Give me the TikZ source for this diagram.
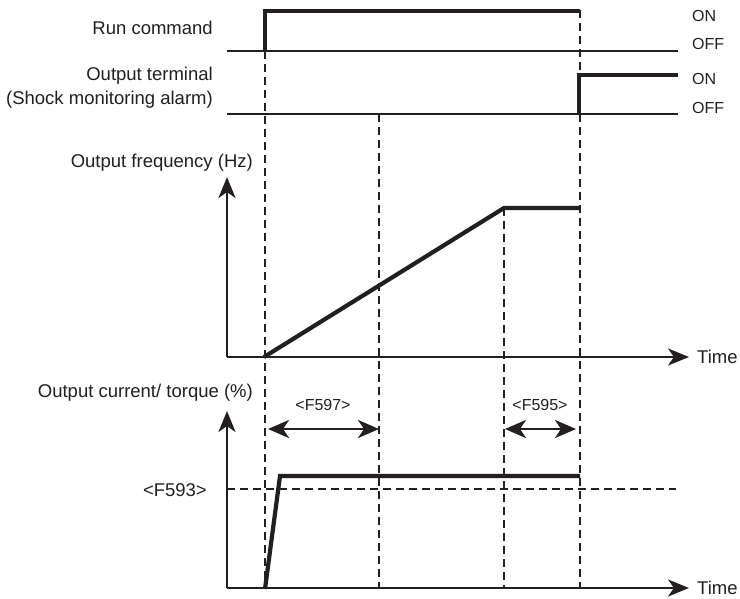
\documentclass[tikz,border=0pt]{standalone}
\usepackage{fontspec}
\setmainfont{Liberation Sans}
\usetikzlibrary{arrows.meta}
\definecolor{ink}{HTML}{231F20}
\tikzset{
  sig/.style={line width=4.2pt, line join=miter, draw=ink},
  base/.style={line width=2.4pt, draw=ink},
  guide/.style={line width=2pt, dash pattern=on 8pt off 5pt, draw=ink},
  axisarrow/.style={line width=2.6pt, draw=ink, -{Stealth[length=21pt,width=17pt,inset=6pt]}},
  span/.style={line width=2.8pt, draw=ink, {Stealth[length=21pt,width=18pt,inset=6pt]}-{Stealth[length=21pt,width=18pt,inset=6pt]}},
  lbl/.style={font=\fontsize{18.5}{22}\selectfont, inner sep=0pt, text=ink},
  slbl/.style={font=\fontsize{16}{19}\selectfont, inner sep=0pt, text=ink},
}
\begin{document}
\begin{tikzpicture}[x=1pt,y=-1pt]
\useasboundingbox (0,0) rectangle (740,598);
% labels
\node[lbl, anchor=east] (run) at (213,28) {Run command};
\node[lbl, anchor=east] (ot1) at (213,76) {Output terminal};
\node[lbl, anchor=east] (ot2) at (213,100) {(Shock monitoring alarm)};
\node[lbl, anchor=east] (of) at (253,163) {Output frequency (Hz)};
\node[lbl, anchor=east] (oc) at (253,393) {Output current/ torque (\%)};
\node[lbl, anchor=east] (f593) at (207,490) {<F593>};
\node[slbl, anchor=west] (on1) at (692,16) {ON};
\node[slbl, anchor=west] (off1) at (692,44) {OFF};
\node[slbl, anchor=west] (on2) at (692,79) {ON};
\node[slbl, anchor=west] (off2) at (692,108) {OFF};
\node[lbl, anchor=west] (time1) at (697,357) {Time};
\node[lbl, anchor=west] (time2) at (697,588) {Time};
\node[slbl] (f597) at (323,405) {<F597>};
\node[slbl] (f595) at (540,405) {<F595>};
% coordinates
\coordinate (r0) at (227,51);  \coordinate (r1) at (678,51);
\coordinate (o0) at (227,114); \coordinate (o1) at (678,114);
\coordinate (fa) at (227,357); \coordinate (ft) at (227,177); \coordinate (fr) at (689,357);
\coordinate (ca) at (227,588); \coordinate (ct) at (227,411); \coordinate (cr) at (689,588);
% dashed guides
\draw[guide] (265,51) -- (265,588);
\draw[guide] (379,114) -- (379,588);
\draw[guide] (504,208) -- (504,588);
\draw[guide] (580,10) -- (580,588);
\draw[guide] (227,489) -- (676,489);
% base lines
\draw[base] (r0) -- (r1);
\draw[base] (o0) -- (o1);
% signals
\draw[sig] (265,52) -- (265,11) -- (580,11);
\draw[sig] (579,115) -- (579,75) -- (678,75);
\draw[sig] (264,357) -- (504,208) -- (580,208);
\draw[sig] (265,589) -- (280,476) -- (580,476);
% axes
\draw[axisarrow] (fa) -- (ft);
\draw[axisarrow] (fa) -- (fr);
\draw[axisarrow] (ca) -- (ct);
\draw[axisarrow] (ca) -- (cr);
% spans
\draw[span] (268,429) -- (379,429);
\draw[span] (505,429) -- (576,429);
\end{tikzpicture}
\end{document}
